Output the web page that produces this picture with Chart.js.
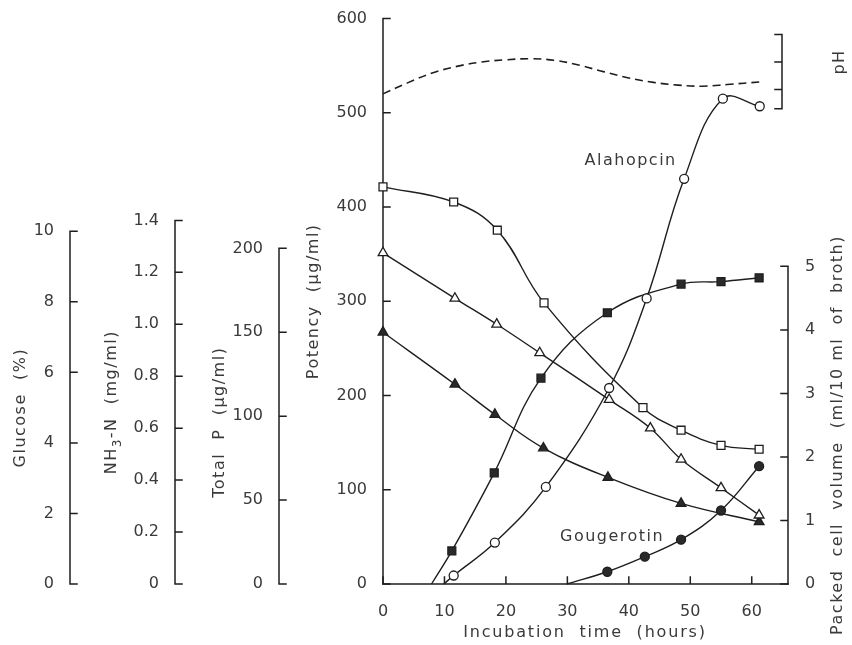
<!DOCTYPE html>
<html>
<head>
<meta charset="utf-8">
<script src="https://cdn.jsdelivr.net/npm/chart.js@4.4.1/dist/chart.umd.min.js"></script>
<style>
  html, body { margin: 0; background: #fff; }
</style>
</head>
<body>
<canvas id="chart" width="852" height="645"></canvas>
<script>
// ---- data ----
// Alahopcin potency (open circles), µg/ml
const alaHours = [9.9, 11.5, 18.2, 26.5, 36.8, 42.9, 49, 55.3, 61.3];
const alahopcin = [0, 9, 44, 103, 208, 303, 430, 515, 507];
// Gougerotin potency (filled circles), µg/ml
const gouHours = [29.9, 36.5, 42.6, 48.5, 55, 61.2];
const gougerotin = [0, 13, 29, 47, 78, 125];
// packed cell volume (filled squares), ml/10 ml
const pcvHours = [7.9, 11.2, 18.1, 25.7, 36.5, 48.5, 55, 61.2];
const packedCell = [0, 0.52, 1.75, 3.24, 4.27, 4.72, 4.76, 4.82];
// glucose (open squares), %
const gluHours = [0, 11.5, 18.6, 26.2, 42.3, 48.5, 55, 61.2];
const glucose = [11.26, 10.83, 10.03, 7.97, 5.0, 4.36, 3.93, 3.82];
// NH3-N (open triangles), mg/ml
const nh3Hours = [0, 11.7, 18.5, 25.5, 36.8, 43.5, 48.5, 55, 61.2];
const nh3n = [1.275, 1.10, 1.0, 0.89, 0.71, 0.60, 0.48, 0.37, 0.265];
// total P (filled triangles), µg/ml
const tpHours = [0, 11.7, 18.2, 26.1, 36.6, 48.5, 61.2];
const totalP = [150, 119, 101, 81, 63.5, 48, 37];
// pH (dashed)
const phHours = [0, 4, 8, 12, 16, 20, 24, 28, 32, 36, 40, 44, 48, 52, 56, 61.5];
const ph = [5.92, 6.12, 6.3, 6.42, 6.5, 6.54, 6.56, 6.53, 6.44, 6.32, 6.21, 6.13, 6.08, 6.06, 6.09, 6.14];

// tick labels
const hourTicks = [0, 10, 20, 30, 40, 50, 60];
const potencyTicks = [0, 100, 200, 300, 400, 500, 600];
const glucoseTicks = [0, 2, 4, 6, 8, 10];
const nh3Ticks = [0, 0.2, 0.4, 0.6, 0.8, 1.0, 1.2, 1.4];
const totalPTicks = [0, 50, 100, 150, 200];
const pcvTicks = [0, 1, 2, 3, 4, 5];
const phTicks = [6, 6.5, 7];
const phLabels = { 6: '6', 7: '7' };

const ink = '#1e1e1e';
const textCol = '#3a3a3a';
const font = 'DejaVu Sans';

const pts = (xs, ys) => xs.map((x, i) => ({ x, y: ys[i] }));
// first point of a rising curve is where it leaves the axis, no marker there
const noStart = r => ctx => (ctx.dataIndex === 0 ? 0 : r);

function series(label, xs, ys, axis, style, radius, fill, skipFirst) {
  return {
    label, data: pts(xs, ys), yAxisID: axis,
    borderColor: ink, borderWidth: 1.4, tension: 0.4,
    pointStyle: style,
    pointRadius: skipFirst ? noStart(radius) : radius,
    pointBackgroundColor: fill, pointBorderColor: ink, pointBorderWidth: 1.3,
    clip: false
  };
}

function fixedWidth(w) { return scale => { scale.width = w; }; }
function setTicks(vals) { return scale => { scale.ticks = vals.map(v => ({ value: v })); }; }

const tickFont = { family: font, size: 16 };

const axesPlugin = {
  id: 'paperAxes',
  beforeDatasetsDraw(chart) {
    const c = chart.ctx, s = chart.scales, a = chart.chartArea;
    c.save();
    c.strokeStyle = ink;
    c.lineWidth = 1.5;
    c.lineCap = 'square';
    const vAxis = (scale, x, vals, lo, hi, dir) => {
      c.beginPath();
      c.moveTo(x, scale.getPixelForValue(lo));
      c.lineTo(x, scale.getPixelForValue(hi));
      vals.forEach(v => {
        const y = scale.getPixelForValue(v);
        c.moveTo(x, y);
        c.lineTo(x + dir * 7, y);
      });
      c.stroke();
    };
    vAxis(s.glu, s.glu.right, glucoseTicks, 0, 10, 1);
    vAxis(s.nh3, s.nh3.right, nh3Ticks, 0, 1.4, 1);
    vAxis(s.tp, s.tp.right, totalPTicks, 0, 200, 1);
    vAxis(s.y, s.y.right, potencyTicks, 0, 600, 1);
    vAxis(s.pcv, a.right, pcvTicks, 0, 5, -1);
    vAxis(s.ph, a.right - 6, phTicks.concat([5.65]), 5.65, 7, -1);
    // time axis
    c.beginPath();
    c.moveTo(a.left, a.bottom);
    c.lineTo(a.right, a.bottom);
    hourTicks.forEach(v => {
      const x = s.x.getPixelForValue(v);
      c.moveTo(x, a.bottom);
      c.lineTo(x, a.bottom - 7);
    });
    c.stroke();
    c.restore();
  },
  afterDraw(chart) {
    const c = chart.ctx, s = chart.scales, a = chart.chartArea;
    c.save();
    c.fillStyle = textCol;
    c.font = '16px "' + font + '"';
    c.letterSpacing = '1.5px';
    c.textBaseline = 'middle';
    const vText = (parts, x, yc) => {
      c.save();
      c.translate(x, yc);
      c.rotate(-Math.PI / 2);
      let total = 0;
      parts.forEach(p => { c.font = (p.sub ? '12px "' : '16px "') + font + '"'; p.w = c.measureText(p.t).width; total += p.w; });
      let cx = -total / 2;
      c.textAlign = 'left';
      parts.forEach(p => {
        c.font = (p.sub ? '12px "' : '16px "') + font + '"';
        c.fillText(p.t, cx, p.sub ? 6 : 0);
        cx += p.w;
      });
      c.restore();
    };
    const mid = (sc, lo, hi) => (sc.getPixelForValue(lo) + sc.getPixelForValue(hi)) / 2;
    vText([{ t: 'Glucose  (%)' }], 21, mid(s.glu, 0, 10));
    vText([{ t: 'NH' }, { t: '3', sub: true }, { t: '-N  (mg/ml)' }], 112, mid(s.nh3, 0, 1.4));
    vText([{ t: 'Total  P  (μg/ml)' }], 220, mid(s.tp, 0, 200) + 6);
    vText([{ t: 'Potency  (μg/ml)' }], 314, s.y.getPixelForValue(300));
    vText([{ t: 'Packed  cell  volume  (ml/10 ml  of  broth)' }], 838, 435);
    vText([{ t: 'pH' }], 840, s.ph.getPixelForValue(6.5));
    c.textAlign = 'center';
    c.font = '16px "' + font + '"';
    c.letterSpacing = '1.8px';
    c.fillText('Incubation  time  (hours)', 585, 633);
    c.letterSpacing = '1.5px';
    c.textAlign = 'left';
    c.fillText('Alahopcin', s.x.getPixelForValue(32.8), s.y.getPixelForValue(449));
    c.fillText('Gougerotin', s.x.getPixelForValue(28.8), s.y.getPixelForValue(50));
    c.restore();
  }
};

new Chart(document.getElementById('chart'), {
  type: 'line',
  data: {
    datasets: [
      series('Alahopcin', alaHours, alahopcin, 'y', 'circle', 4.5, '#fff', true),
      series('Gougerotin', gouHours, gougerotin, 'y', 'circle', 4.5, '#2a2a2a', true),
      series('Packed cell volume', pcvHours, packedCell, 'pcv', 'rect', 5.6, '#2a2a2a', true),
      series('Glucose', gluHours, glucose, 'glu', 'rect', 5.6, '#fff', false),
      series('NH3-N', nh3Hours, nh3n, 'nh3', 'triangle', 5.6, '#fff', false),
      series('Total P', tpHours, totalP, 'tp', 'triangle', 5.6, '#2a2a2a', false),
      {
        label: 'pH', data: pts(phHours, ph), yAxisID: 'ph',
        borderColor: ink, borderWidth: 1.6, borderDash: [8, 5],
        tension: 0.4, pointRadius: 0, clip: false
      }
    ]
  },
  options: {
    responsive: false,
    animation: false,
    layout: { padding: { top: 18, left: 0, right: 0, bottom: 0 } },
    plugins: { legend: { display: false }, tooltip: { enabled: false } },
    scales: {
      x: {
        type: 'linear', position: 'bottom', min: 0, max: 65.9,
        grid: { display: false }, border: { display: false },
        afterBuildTicks: setTicks(hourTicks),
        afterFit: scale => { scale.height = 61; },
        ticks: { font: tickFont, color: textCol, padding: 10, maxRotation: 0 }
      },
      y: {
        type: 'linear', position: 'left', min: 0, max: 600, weight: 0,
        grid: { display: false }, border: { display: false },
        afterBuildTicks: setTicks(potencyTicks), afterFit: fixedWidth(104),
        ticks: { font: tickFont, color: textCol, padding: 8 }
      },
      tp: {
        type: 'linear', position: 'left', min: 0, max: 336.9, weight: 1,
        grid: { display: false }, border: { display: false },
        afterBuildTicks: setTicks(totalPTicks), afterFit: fixedWidth(104),
        ticks: { font: tickFont, color: textCol, padding: 8 }
      },
      nh3: {
        type: 'linear', position: 'left', min: 0, max: 2.177, weight: 2,
        grid: { display: false }, border: { display: false },
        afterBuildTicks: setTicks(nh3Ticks), afterFit: fixedWidth(105),
        ticks: { font: tickFont, color: textCol, padding: 8,
          callback: v => (v === 0 ? '0' : v.toFixed(1)) }
      },
      glu: {
        type: 'linear', position: 'left', min: 0, max: 16.03, weight: 3,
        grid: { display: false }, border: { display: false },
        afterBuildTicks: setTicks(glucoseTicks), afterFit: fixedWidth(70),
        ticks: { font: tickFont, color: textCol, padding: 8 }
      },
      ph: {
        type: 'linear', position: 'right', min: -3.0, max: 7.29, weight: 0,
        grid: { display: false }, border: { display: false },
        afterBuildTicks: setTicks(phTicks), afterFit: fixedWidth(0),
        ticks: { font: tickFont, color: textCol, padding: 8,
          callback: v => phLabels[v] || '' }
      },
      pcv: {
        type: 'linear', position: 'right', min: 0, max: 8.9, weight: 1,
        grid: { display: false }, border: { display: false },
        afterBuildTicks: setTicks(pcvTicks), afterFit: fixedWidth(64),
        ticks: { font: tickFont, color: textCol, padding: 9 }
      }
    }
  },
  plugins: [axesPlugin]
});
</script>
</body>
</html>
